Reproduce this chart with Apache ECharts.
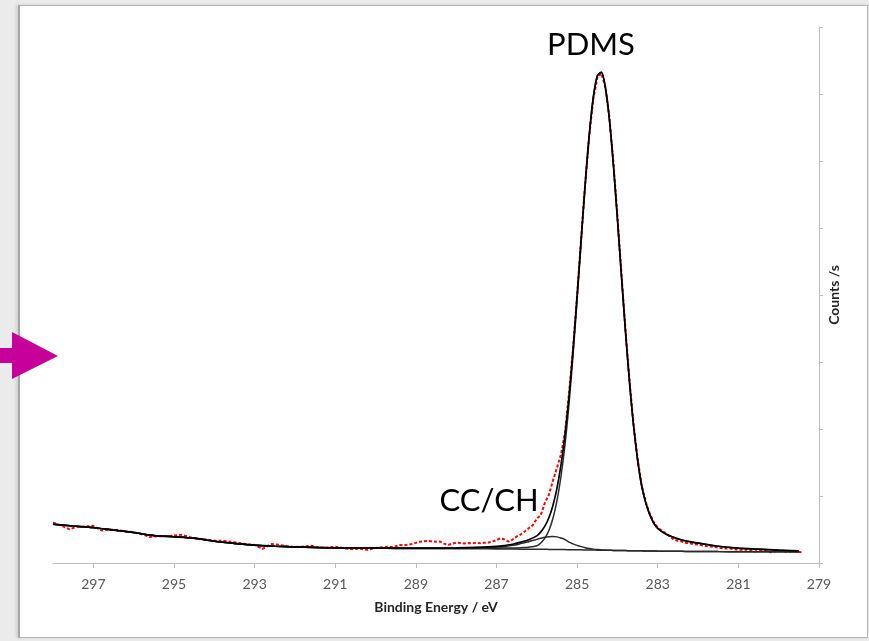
<!DOCTYPE html>
<html>
<head>
<meta charset="utf-8">
<script src="https://cdn.jsdelivr.net/npm/echarts@6/dist/echarts.min.js"></script>
<style>
  html, body { margin: 0; padding: 0; width: 869px; height: 641px; background: #ebebeb; overflow: hidden; }
  #panel { position: absolute; left: 18px; top: 5px; width: 847px; height: 631px; background: #ffffff;
           border: 1px solid #b4b4b4; border-left: 2px solid #a6a6a6; box-shadow: -2px 0 3px rgba(0,0,0,0.12); }
  #chart { position: absolute; left: 0; top: 0; width: 869px; height: 641px; }
</style>
</head>
<body>
<div id="panel"></div>
<div id="chart"></div>
<script>
// ---- Data ----
const tickLabels = [279, 281, 283, 285, 287, 289, 291, 293, 295, 297];

const fitEnergy = [298.0,297.5,297.0,296.5,296.0,295.5,295.0,294.5,294.0,293.5,293.0,292.5,292.0,291.5,291.0,290.5,290.0,289.5,289.0,288.5,288.0,287.5,287.0,
  286.8,286.6,286.4,286.2,
  286.0,285.9,285.8,285.7,285.6,285.5,285.4,285.3,285.2,285.1,285.0,284.9,284.8,284.7,284.6,284.5,284.4,284.3,284.2,284.1,284.0,283.9,283.8,283.7,283.6,283.5,283.4,283.3,283.2,283.1,283.0,
  282.8,282.6,282.4,282.2,282.0,
  281.5,281.0,280.5,280.0,279.5];

const background = [580,552,528,492,455,410,392,370,325,292,266,250,240,232,226,222,220,218,217,216,214,212,210,
  209,208,207,206,
  205,204,204,203,203,202,201,200,199,198,197,196,195,194,193,192,191,190,189,188,187,186,185,184,183,182,181,180,179,178,177,
  176,175,174,173,172,
  170,169,168,167,166];

const ccchLine = [580,552,528,492,455,410,392,370,325,292,266,250,240,232,226,222,220,218,217,218,219,224,235,
  247,263,289,318,
  353,369,384,393,397,390,373,350,311,286,263,244,228,216,207,200,196,193,190,188,187,186,185,184,183,182,181,180,179,178,177,
  176,175,174,173,172,
  170,169,168,167,166];

const pdmsLine = [580,552,528,492,455,410,392,370,325,292,266,250,240,232,226,223,222,221,221,221,221,221,222,
  223,225,229,236,
  257,299,371,486,665,926,1291,1770,2379,3108,3927,4786,5625,6364,6933,7262,7321,7100,6629,5943,5137,4286,3455,2699,2053,1542,1157,905,725,597,516,
  432,383,344,318,297,
  250,221,206,192,180];

const envelope = [580,552,528,492,455,410,392,370,325,292,266,250,240,232,226,223,222,221,221,223,226,233,247,
  261,280,311,348,
  405,464,551,676,859,1114,1463,1920,2491,3196,3993,4834,5658,6386,6947,7270,7326,7103,6630,5943,5137,4286,3455,2699,2053,1542,1157,905,725,597,516,
  432,383,344,318,297,
  250,221,206,192,180];

const rawEnergy = [298.0,297.8,297.6,297.4,297.2,297.0,296.8,296.6,296.4,296.2,296.0,295.8,295.6,295.4,295.2,295.0,294.8,294.6,294.4,294.2,
  294.0,293.8,293.6,293.4,293.2,293.0,292.8,292.6,292.4,292.2,292.0,291.8,291.6,291.4,291.2,291.0,290.8,290.6,290.4,290.2,
  290.0,289.9,289.8,289.7,289.6,289.5,289.4,289.3,289.2,289.1,289.0,288.9,288.8,288.7,288.6,288.5,288.4,288.3,288.2,288.1,
  288.0,287.9,287.8,287.7,287.6,287.5,287.4,287.3,287.2,287.1,287.0,286.9,286.8,286.7,286.6,286.5,286.4,286.3,286.2,286.1,
  286.0,285.9,285.8,285.7,285.6,285.5,285.4,285.3,285.2,285.1,285.0,284.9,284.8,284.7,284.6,284.5,284.4,284.3,284.2,284.1,
  284.0,283.9,283.8,283.7,283.6,283.5,283.4,283.3,283.2,283.1,283.0,282.9,282.8,282.7,282.6,282.5,282.4,282.3,282.2,282.1,
  282.0,281.8,281.6,281.4,281.2,281.0,280.8,280.6,280.4,280.2,280.0,279.8,279.6,279.4];

const rawCounts = [600,560,505,540,545,555,485,500,492,470,462,430,388,400,398,410,420,385,360,350,
  335,330,318,300,282,270,210,282,272,250,238,245,258,232,228,243,222,205,215,196,
  225,230,236,243,238,250,268,262,272,285,300,318,326,330,322,318,320,290,268,288,
  303,298,292,297,294,298,296,302,305,322,342,368,352,320,350,395,425,470,520,565,
  660,720,896,1020,1230,1420,1620,1940,2540,3200,3990,4840,5650,6370,6920,7240,7310,7110,6650,5980,
  5180,4320,3480,2720,2070,1560,1170,915,740,610,530,480,445,395,350,330,320,300,294,280,
  275,254,240,219,215,196,200,172,190,160,178,168,182,154];

function pairs(xs, ys) { return xs.map((x, i) => [x, ys[i]]); }

const chart = echarts.init(document.getElementById('chart'), null, { renderer: 'canvas' });
const axisGray = '#bfbfbf';
const FONT = 'Lato, "Open Sans", sans-serif';

chart.setOption({
  animation: false,
  backgroundColor: 'transparent',
  grid: { left: 53, right: 50, top: 27, bottom: 78, containLabel: false },
  xAxis: {
    type: 'value', inverse: true, min: 279, max: 298,
    axisLine: { show: true, onZero: false, lineStyle: { color: axisGray, width: 1 } },
    axisTick: { show: true, length: 5, customValues: tickLabels, lineStyle: { color: axisGray } },
    axisLabel: { customValues: tickLabels, color: '#595959', fontSize: 14, fontFamily: FONT, margin: 14 },
    splitLine: { show: false },
    name: 'Binding Energy / eV', nameLocation: 'middle', nameGap: 37,
    nameTextStyle: { color: '#262626', fontSize: 14, fontWeight: 'bold', fontFamily: FONT }
  },
  yAxis: {
    type: 'value', position: 'right', min: 0, max: 8000, interval: 1000,
    axisLine: { show: true, lineStyle: { color: axisGray, width: 1 } },
    axisTick: { show: true, length: 4, lineStyle: { color: axisGray } },
    axisLabel: { show: false },
    splitLine: { show: false },
    name: 'Counts /s', nameLocation: 'middle', nameRotate: 90, nameGap: 8,
    nameTextStyle: { color: '#262626', fontSize: 14, fontWeight: 'bold', fontFamily: FONT }
  },
  series: [
    { name: 'raw', type: 'line', data: pairs(rawEnergy, rawCounts), symbol: 'none', z: 2,
      lineStyle: { color: '#ff0000', width: 2, type: [3, 2] } },
    { name: 'background', type: 'line', data: pairs(fitEnergy, background), symbol: 'none', smooth: 0.3, z: 3,
      lineStyle: { color: '#2a2a2a', width: 1.5 } },
    { name: 'CC/CH', type: 'line', data: pairs(fitEnergy, ccchLine), symbol: 'none', smooth: 0.3, z: 3,
      lineStyle: { color: '#2a2a2a', width: 1.5 } },
    { name: 'PDMS', type: 'line', data: pairs(fitEnergy, pdmsLine), symbol: 'none', smooth: 0.3, z: 3,
      lineStyle: { color: '#2a2a2a', width: 1.5 } },
    { name: 'envelope', type: 'line', data: pairs(fitEnergy, envelope), symbol: 'none', smooth: 0.3, z: 4,
      lineStyle: { color: '#000000', width: 1.7 } }
  ],
  graphic: [
    { type: 'polygon', z: 100,
      shape: { points: [[0,348],[12,348],[12,332],[58,356],[12,379],[12,363],[0,363]] },
      style: { fill: '#c8009b' } },
    { type: 'text', x: 591, y: 45, z: 100,
      style: { text: 'PDMS', fontSize: 31, fontFamily: FONT, fill: '#000', align: 'center', verticalAlign: 'middle' } },
    { type: 'text', x: 489, y: 501, z: 100,
      style: { text: 'CC/CH', fontSize: 31, fontFamily: FONT, fill: '#000', align: 'center', verticalAlign: 'middle' } }
  ]
});
</script>
</body>
</html>
